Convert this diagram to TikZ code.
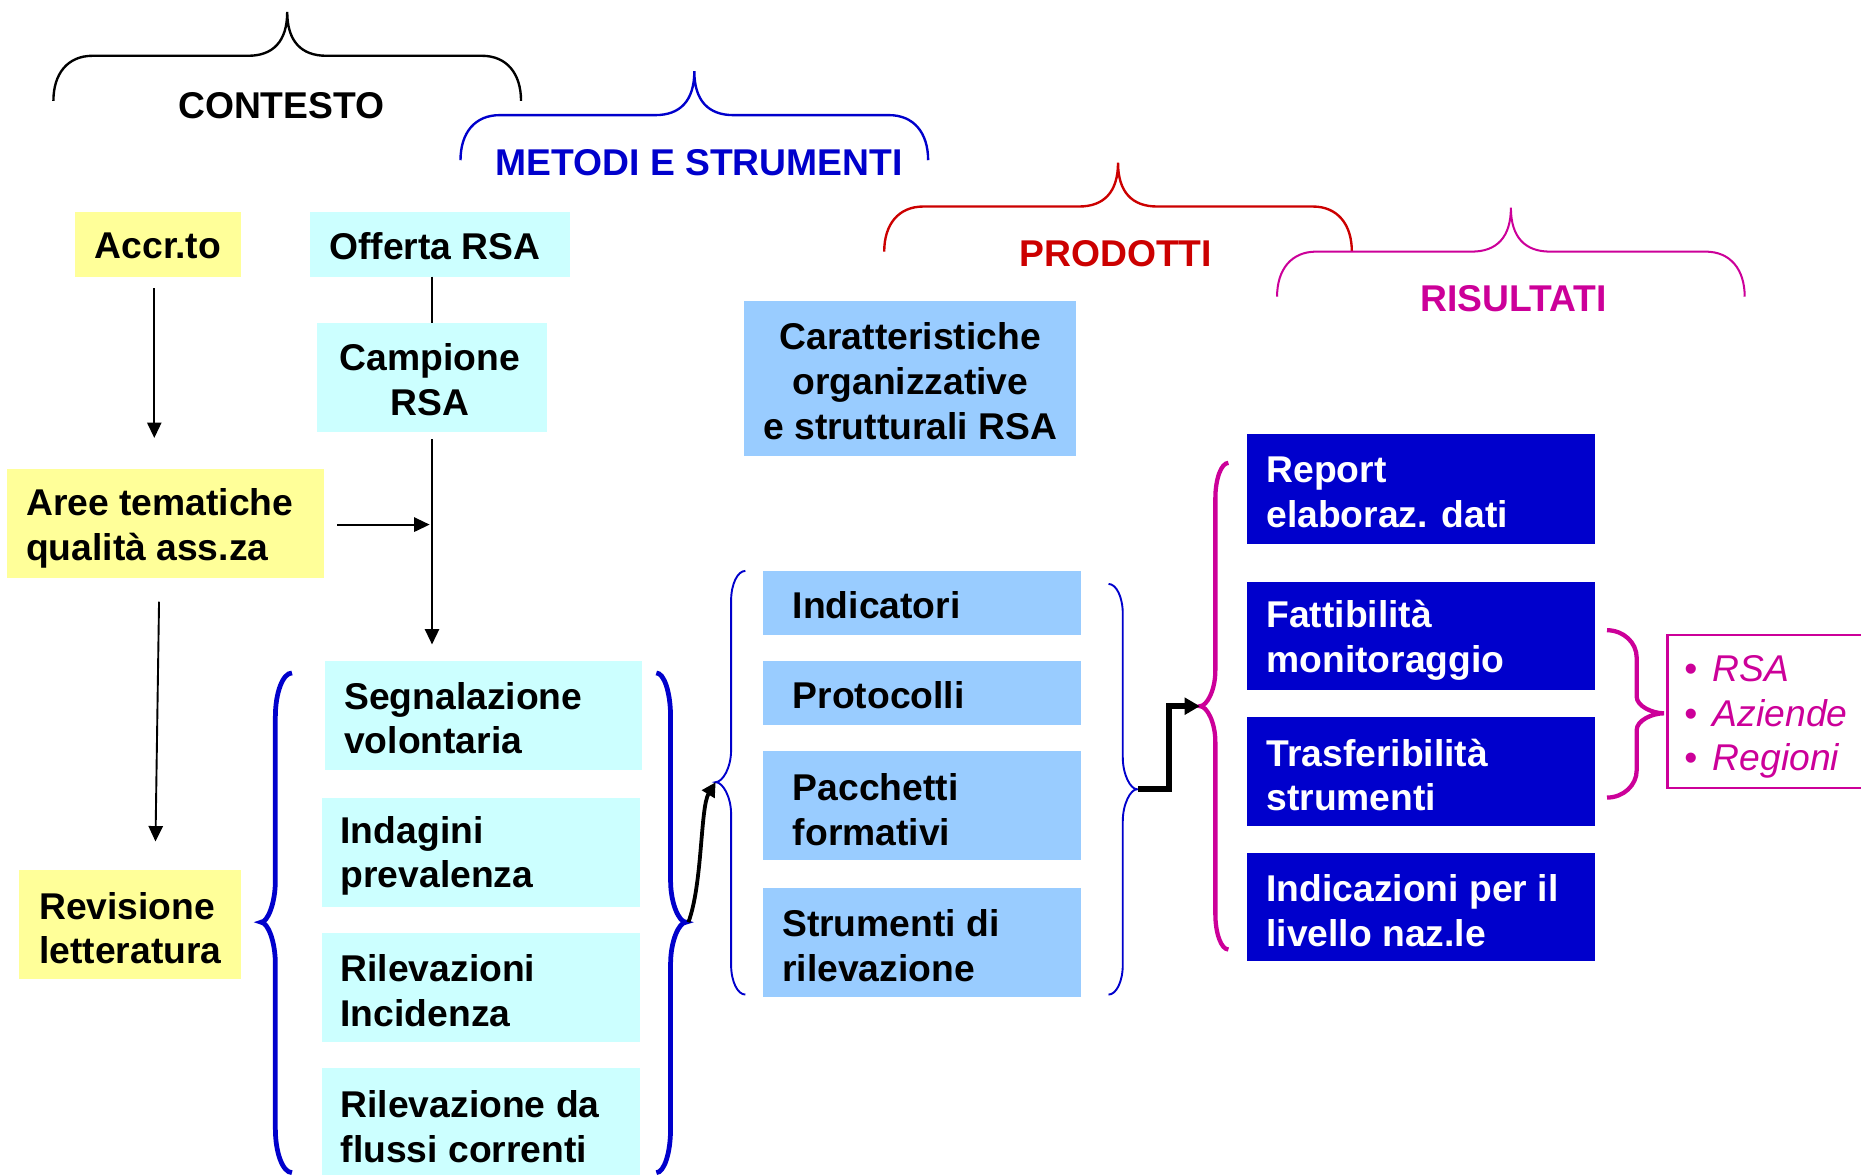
\documentclass[tikz,border=0pt]{standalone}
\usepackage{fontspec}
\setmainfont{Liberation Sans}
\usetikzlibrary{arrows.meta,calc}
\definecolor{cyel}{HTML}{FFFF99}
\definecolor{ccyan}{HTML}{CCFFFF}
\definecolor{clblue}{HTML}{99CCFF}
\definecolor{cdblue}{HTML}{0000CC}
\definecolor{cred}{HTML}{CC0000}
\definecolor{cmag}{HTML}{CC0099}
\newcommand\mkbox[6]{\node[boxbase, fill=#6, minimum width={#4-#2}, minimum height={#5-#3}] (#1) at ({(#2+#4)/2},{(#3+#5)/2}) {};}
% horizontal brace: #1 x left end, #2 y of cusp, #3 style
\newcommand\hbr[3]{\draw[#3] (#1,{#2+75}) .. controls (#1,{#2+52}) and ({#1+12},{#2+37}) .. ({#1+33},{#2+37}) -- ({#1+164},{#2+37}) .. controls ({#1+185},{#2+37}) and ({#1+197},{#2+25}) .. ({#1+197},#2) .. controls ({#1+197},{#2+25}) and ({#1+209},{#2+37}) .. ({#1+230},{#2+37}) -- ({#1+361},{#2+37}) .. controls ({#1+382},{#2+37}) and ({#1+394},{#2+52}) .. ({#1+394},{#2+75});}
% vertical brace: #1 xtip #2 xvert #3 xcusp #4 ytop #5 ycusp #6 ybot #7 r1 #8 r2 #9 style
\newcommand\vbr[9]{\draw[#9] (#1,#4) .. controls ({#2+0.45*(#1-#2)},#4) and (#2,{#4+0.45*#7}) .. (#2,{#4+#7}) -- (#2,{#5-#8}) .. controls (#2,{#5-0.45*#8}) and ({#3+0.45*(#2-#3)},#5) .. (#3,#5) .. controls ({#3+0.45*(#2-#3)},#5) and (#2,{#5+0.45*#8}) .. (#2,{#5+#8}) -- (#2,{#6-#7}) .. controls (#2,{#6-0.45*#7}) and ({#2+0.45*(#1-#2)},#6) .. (#1,#6);}
\begin{document}
\begin{tikzpicture}[x=1pt,y=-1pt,
  boxbase/.style={draw=none, inner sep=0pt, outer sep=0pt},
  txt/.style={font=\fontsize{31.4}{37.7}\selectfont\bfseries, inner sep=0pt, outer sep=0pt, align=left},
  wtxt/.style={txt, text=white},
  arr/.style={draw=black, line width=1.6, -{Triangle[length=13pt,width=12pt]}},
  ln/.style={draw=black, line width=1.6},
  carr/.style={draw=black, line width=3.2, -{Triangle[length=12pt,width=12pt]}},
  earr/.style={draw=black, line width=5, line join=miter, -{Triangle[length=13pt,width=14pt]}},
  bthick/.style={draw=cdblue, line width=4},
  bthin/.style={draw=cdblue, line width=1.6},
  mthick/.style={draw=cmag, line width=3.6},
]
\path[use as bounding box, fill=white] (0,0) rectangle (1568,990);
\clip (0,0) rectangle (1568,990);

% heading braces and titles
\hbr{45}{10}{draw=black, line width=2}
\hbr{388}{60}{draw=cdblue, line width=2}
\hbr{745}{137}{draw=cred, line width=2}
\hbr{1076}{175}{draw=cmag, line width=1.7}
\node[txt] (hctx) at (237,89) {CONTESTO};
\node[txt, text=cdblue] (hmet) at (589,137) {METODI E STRUMENTI};
\node[txt, text=cred] (hprod) at (940,214) {PRODOTTI};
\node[txt, text=cmag] (hris) at (1275,252) {RISULTATI};

% boxes
\mkbox{accr}{63}{179}{203}{233}{cyel}
\node[txt, align=center] (accrT) at ($(accr.center)+(0,1)$) {Accr.to};
\mkbox{off}{261}{179}{480}{233}{ccyan}
\node[txt, align=center] (offT) at ($(off.center)+(-4,1)$) {Offerta RSA};
\mkbox{camp}{267}{272}{461}{364}{ccyan}
\node[txt, align=center] (campT) at ($(camp.center)+(-2,2)$) {Campione\\RSA};
\mkbox{aree}{6}{395}{273}{487}{cyel}
\node[txt, anchor=west] (areeT) at ($(aree.west)+(16,4)$) {Aree tematiche\\qualità ass.za};
\mkbox{rev}{16}{733}{203}{825}{cyel}
\node[txt, anchor=west] (revT) at ($(rev.west)+(17,3)$) {Revisione\\letteratura};
\mkbox{seg}{274}{557}{541}{649}{ccyan}
\node[txt, anchor=west] (segT) at ($(seg.west)+(16,2)$) {Segnalazione\\volontaria};
\mkbox{ind}{271}{672}{539}{764}{ccyan}
\node[txt, anchor=west] (indT) at ($(ind.west)+(16,3)$) {Indagini\\prevalenza};
\mkbox{ril}{271}{786}{539}{878}{ccyan}
\node[txt, anchor=west] (rilT) at ($(ril.west)+(16,3)$) {Rilevazioni\\Incidenza};
\mkbox{rilf}{271}{900}{539}{992}{ccyan}
\node[txt, anchor=west] (rilfT) at ($(rilf.west)+(16,3)$) {Rilevazione da\\flussi correnti};
\mkbox{car}{627}{254}{907}{384}{clblue}
\node[txt, align=center] (carT) at ($(car.center)+(0,2)$) {Caratteristiche\\organizzative\\e strutturali RSA};
\mkbox{indic}{643}{481}{911}{535}{clblue}
\node[txt, anchor=west] (indicT) at ($(indic.west)+(25,2)$) {Indicatori};
\mkbox{prot}{643}{557}{911}{611}{clblue}
\node[txt, anchor=west] (protT) at ($(prot.west)+(25,2)$) {Protocolli};
\mkbox{pac}{643}{633}{911}{725}{clblue}
\node[txt, anchor=west] (pacT) at ($(pac.west)+(25,3)$) {Pacchetti\\formativi};
\mkbox{stru}{643}{748}{911}{840}{clblue}
\node[txt, anchor=west] (struT) at ($(stru.west)+(16,3)$) {Strumenti di\\rilevazione};
\mkbox{rep}{1051}{366}{1344}{458}{cdblue}
\node[wtxt, anchor=west] (repT) at ($(rep.west)+(16,3)$) {Report\\elaboraz. dati};
\mkbox{fat}{1051}{490}{1344}{581}{cdblue}
\node[wtxt, anchor=west] (fatT) at ($(fat.west)+(16,4)$) {Fattibilità\\monitoraggio};
\mkbox{tra}{1051}{604}{1344}{696}{cdblue}
\node[wtxt, anchor=west] (traT) at ($(tra.west)+(16,3)$) {Trasferibilità\\strumenti};
\mkbox{indn}{1051}{719}{1344}{810}{cdblue}
\node[wtxt, anchor=west] (indnT) at ($(indn.west)+(16,3)$) {Indicazioni per il\\livello naz.le};
\node[draw=cmag, line width=2.3, fill=white, inner sep=0pt, minimum width=180, minimum height=129] (lst) at (1495,599.5) {};
\node[anchor=west, font=\fontsize{31.4}{37.7}\selectfont\itshape, text=cmag, align=left, inner sep=0pt] (lstT) at (1419,604) {\makebox[24pt][l]{\upshape •}RSA\\\makebox[24pt][l]{\upshape •}Aziende\\\makebox[24pt][l]{\upshape •}Regioni};

% braces
\vbr{246}{232}{220}{567}{777}{988}{37}{35}{bthick}
\vbr{553}{565}{578}{567}{777}{988}{37}{35}{bthick}
\vbr{628}{616}{603}{481}{659}{838}{25}{27}{bthin}
\vbr{934}{946}{958}{492}{665}{838}{25}{27}{bthin}
\vbr{1035}{1024}{1011}{390}{595}{800}{30}{30}{mthick}
\vbr{1354}{1379}{1402}{531}{601}{672}{23}{14}{draw=cmag, line width=3.6}

% brace tips as named coordinates
\coordinate (cR) at (580,777);
\coordinate (cL) at (603,659);
\coordinate (cT) at (959,665);
\coordinate (cM) at (1011,595);

% connectors
\draw[arr] ($(accr.south)+(-3,10)$) -- ($(aree.north)+(-9.5,-26)$);
\draw[arr] ($(aree.south)+(-5.5,20)$) -- ($(rev.north)+(21.5,-24)$);
\draw[ln] (camp.north |- off.south) -- (camp.north);
\draw[arr] ($(camp.south)+(0,6)$) -- ($(camp.south |- seg.north)+(0,-14)$);
\draw[arr] ($(aree.east)+(11,1)$) -- ($(camp.south |- aree.east)+(-2,1)$);
\draw[carr] (cR) .. controls (592,745) and (590,680) .. (cL);
\draw[earr] (cT) -- ++(26,0) |- (cM);
\end{tikzpicture}
\end{document}
